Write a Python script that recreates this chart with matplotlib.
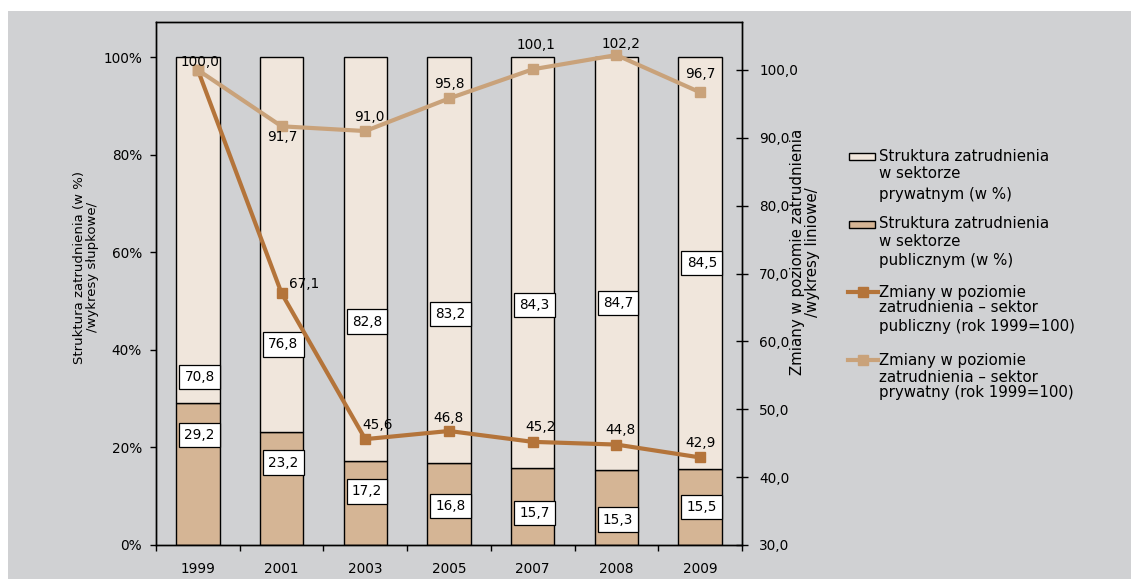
import numpy as np
import matplotlib
matplotlib.use("Agg")
import matplotlib.pyplot as plt
from matplotlib.patches import Rectangle
from matplotlib.lines import Line2D

# ---------------- data ----------------
years = ["1999", "2001", "2003", "2005", "2007", "2008", "2009"]
private_share = [70.8, 76.8, 82.8, 83.2, 84.3, 84.7, 84.5]
public_share = [29.2, 23.2, 17.2, 16.8, 15.7, 15.3, 15.5]
public_index = [100.0, 67.1, 45.6, 46.8, 45.2, 44.8, 42.9]
private_index = [100.0, 91.7, 91.0, 95.8, 100.1, 102.2, 96.7]

left_ticks = [0, 20, 40, 60, 80, 100]
right_ticks = [30, 40, 50, 60, 70, 80, 90, 100]

legend_labels = [
    ["Struktura zatrudnienia", "w sektorze", "prywatnym (w %)"],
    ["Struktura zatrudnienia", "w sektorze", "publicznym (w %)"],
    ["Zmiany w poziomie", "zatrudnienia \u2013 sektor", "publiczny (rok 1999=100)"],
    ["Zmiany w poziomie", "zatrudnienia \u2013 sektor", "prywatny (rok 1999=100)"],
]

# ---------------- layout / style ----------------
W, H = 1131, 579
GRAY = "#d0d1d3"
C_PRIV_BAR = "#f0e6dc"
C_PUB_BAR = "#d5b595"
C_PUB_LINE = "#b4743a"
C_PRIV_LINE = "#c9a27a"
FS_NUM = 9.8
FS_TXT = 10.8

# label positions (left-axis % units) for bar value boxes
priv_label_y = [34.5, 41.1, 45.8, 47.4, 49.2, 49.6, 57.8]
pub_label_y = [22.5, 16.9, 11.0, 8.0, 6.6, 5.2, 7.8]
# pixel offsets for line labels
priv_off = [(2, 8), (1, -11), (4, 14), (0, 14), (3, 24), (5, 11), (0, 18)]
pub_off = [None, (23, 9), (12, 14), (0, 13), (8, 15), (4, 15), (0, 14)]

plt.rcParams["font.family"] = ["DejaVu Sans"]

fig = plt.figure(figsize=(W / 100, H / 100), dpi=100)
fig.patch.set_facecolor("white")
fig.patches.append(Rectangle((8 / W, 0), 1, 1 - 11 / H, transform=fig.transFigure,
                             facecolor=GRAY, edgecolor="none", zorder=-10))

ax = fig.add_axes([156 / W, 1 - 545 / H, (742 - 156) / W, (545 - 22) / H])
ax.set_facecolor("none")
x = np.arange(len(years))
bw = 0.52
ax.bar(x, public_share, width=bw, color=C_PUB_BAR, edgecolor="black", linewidth=1.0, zorder=2)
ax.bar(x, private_share, bottom=public_share, width=bw, color=C_PRIV_BAR,
       edgecolor="black", linewidth=1.0, zorder=2)

box = dict(boxstyle="square,pad=0.38", facecolor="white", edgecolor="black", linewidth=0.9)
for i in range(len(years)):
    ax.text(x[i] + 0.02, priv_label_y[i], f"{private_share[i]:.1f}".replace(".", ","),
            ha="center", va="center", fontsize=FS_NUM, bbox=box, zorder=3)
    ax.text(x[i] + 0.02, pub_label_y[i], f"{public_share[i]:.1f}".replace(".", ","),
            ha="center", va="center", fontsize=FS_NUM, bbox=box, zorder=3)

ax.set_xlim(-0.5, len(years) - 0.5)
ax.set_ylim(0, 107.2)
ax.set_yticks(left_ticks)
ax.set_yticklabels([f"{t}%" for t in left_ticks], fontsize=FS_NUM)
ax.set_xticks(x)
ax.set_xticklabels(years, fontsize=FS_NUM)
ax.tick_params(axis="x", which="major", length=0, pad=12)
ax.set_xticks(np.arange(-0.5, len(years), 1.0), minor=True)
ax.tick_params(axis="x", which="minor", length=4, direction="out", width=1)
ax.tick_params(axis="y", length=4, direction="out", width=1, pad=6)
for s in ax.spines.values():
    s.set_linewidth(1.0)
    s.set_color("black")

ax2 = ax.twinx()
ax2.set_ylim(30, 107.07)
ax2.set_yticks(right_ticks)
ax2.set_yticklabels([f"{t:.1f}".replace(".", ",") for t in right_ticks], fontsize=FS_NUM)
ax2.tick_params(axis="y", direction="inout", length=9, width=1, pad=8)
for s in ax2.spines.values():
    s.set_linewidth(1.0)

ax2.plot(x, public_index, color=C_PUB_LINE, lw=3, marker="s", ms=6.5, zorder=4)
ax2.plot(x, private_index, color=C_PRIV_LINE, lw=3, marker="s", ms=6.5, zorder=4)

for i in range(len(years)):
    dx, dy = priv_off[i]
    ax2.annotate(f"{private_index[i]:.1f}".replace(".", ","), (x[i], private_index[i]),
                 xytext=(dx, dy), textcoords="offset pixels", ha="center", va="center",
                 fontsize=FS_NUM, zorder=5)
    if pub_off[i] is not None:
        dx, dy = pub_off[i]
        ax2.annotate(f"{public_index[i]:.1f}".replace(".", ","), (x[i], public_index[i]),
                     xytext=(dx, dy), textcoords="offset pixels", ha="center", va="center",
                     fontsize=FS_NUM, zorder=5)

# axis titles
fig.text(86 / W, 1 - 267 / H, "Struktura zatrudnienia (w %)\n/wykresy słupkowe/",
         rotation=90, ha="center", va="center", multialignment="center", fontsize=9.5,
         linespacing=1.05)
fig.text(805 / W, 1 - 252 / H, "Zmiany w poziomie zatrudnienia\n/wykresy liniowe/",
         rotation=90, ha="center", va="center", multialignment="center", fontsize=FS_TXT,
         linespacing=0.95)

# legend (manual)
line_y = [[157, 173, 194], [224, 241, 261], [292, 308, 326], [360, 377, 392]]
for k, lines in enumerate(legend_labels):
    for j, t in enumerate(lines):
        fig.text(879 / W, 1 - line_y[k][j] / H, t, ha="left", va="center", fontsize=FS_TXT)
patch_y = [156, 224]
for k, col in enumerate([C_PRIV_BAR, C_PUB_BAR]):
    fig.patches.append(Rectangle((849 / W, 1 - (patch_y[k] + 3.5) / H), 26 / W, 7 / H,
                                 transform=fig.transFigure, facecolor=col,
                                 edgecolor="black", linewidth=1.0))
for k, col in enumerate([C_PUB_LINE, C_PRIV_LINE]):
    yy = 1 - line_y[k + 2][0] / H
    fig.lines.append(Line2D([848 / W, 878 / W], [yy, yy], transform=fig.transFigure,
                            color=col, lw=3))
    fig.lines.append(Line2D([863 / W], [yy], transform=fig.transFigure, color=col,
                            marker="s", ms=7.5, lw=0))

fig.savefig("out.png", dpi=100)
